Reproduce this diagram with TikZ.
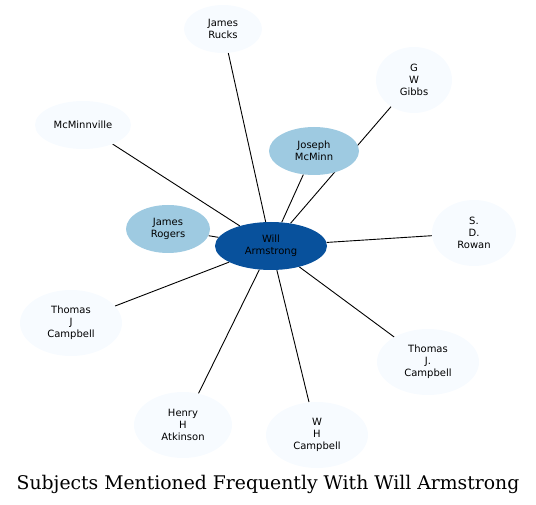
\documentclass[tikz,border=0pt]{standalone}
\usepackage{fontspec}
\newfontfamily\nodefont{DejaVu Sans}
\newfontfamily\titlefont{DejaVu Serif}
\usetikzlibrary{backgrounds,shapes.geometric}
\definecolor{hub}{HTML}{08519C}
\definecolor{mid}{HTML}{9ECAE1}
\definecolor{pale}{HTML}{F7FBFF}
\tikzset{
  ent/.style={ellipse, fill=pale, inner sep=0pt, align=center,
    font=\nodefont\fontsize{10}{12}\selectfont, text=black},
  hubnode/.style={ent, fill=hub},
  midnode/.style={ent, fill=mid},
  link/.style={draw=black, line width=0.9pt},
}
\begin{document}
\begin{tikzpicture}[x=1pt, y=-1pt]
\useasboundingbox (0,0) rectangle (536,505);
\node[hubnode, minimum width=112pt, minimum height=48pt] (will) at (271,246) {Will\\Armstrong};
\node[midnode, minimum width=90pt, minimum height=48pt] (joseph) at (314,151) {Joseph\\McMinn};
\node[midnode, minimum width=84pt, minimum height=48pt] (rogers) at (168,229) {James\\Rogers};
\node[ent, minimum width=78pt, minimum height=48pt] (rucks) at (223,29) {James\\Rucks};
\node[ent, minimum width=76pt, minimum height=66pt] (gibbs) at (414,80) {G\\W\\Gibbs};
\node[ent, minimum width=96pt, minimum height=48pt] (mcminnville) at (83,125) {McMinnville};
\node[ent, minimum width=84pt, minimum height=66pt] (rowan) at (474,233) {S.\\D.\\Rowan};
\node[ent, minimum width=102pt, minimum height=66pt] (tjc) at (71,323) {Thomas\\J\\Campbell};
\node[ent, minimum width=102pt, minimum height=66pt] (tjdc) at (428,362) {Thomas\\J.\\Campbell};
\node[ent, minimum width=98pt, minimum height=66pt] (henry) at (183,425) {Henry\\H\\Atkinson};
\node[ent, minimum width=102pt, minimum height=66pt] (whc) at (317,435) {W\\H\\Campbell};
\node[font=\titlefont\fontsize{18.8}{21}\selectfont, inner sep=0pt] (title) at (268,484) {Subjects Mentioned Frequently With Will Armstrong};
\begin{scope}[on background layer]
\foreach \t in {joseph,rogers,rucks,gibbs,mcminnville,rowan,tjc,tjdc,henry,whc}
  \draw[link] (will) -- (\t);
\end{scope}
\end{tikzpicture}
\end{document}
